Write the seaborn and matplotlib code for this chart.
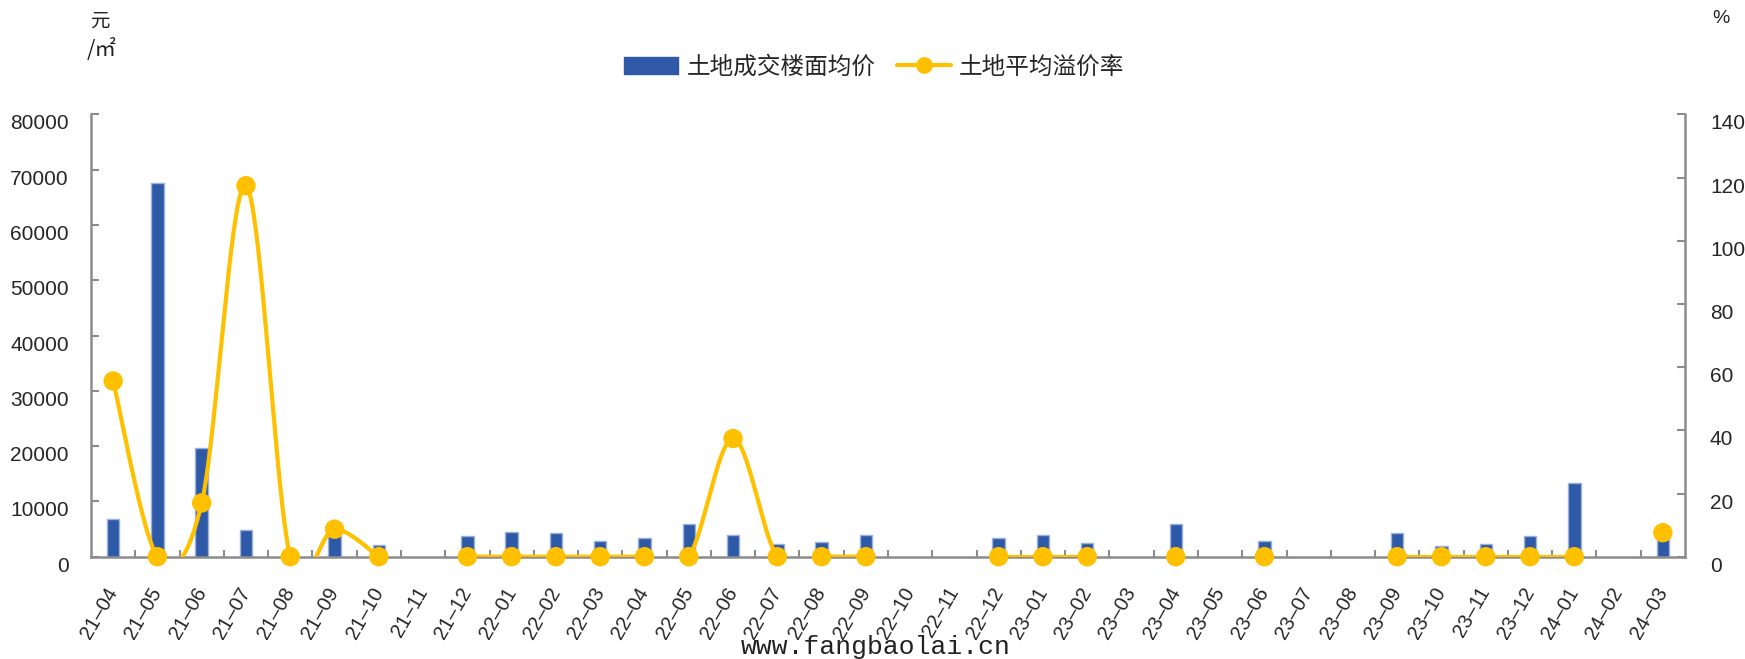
import numpy as np
import pandas as pd
import matplotlib
matplotlib.use("Agg")
import matplotlib.pyplot as plt
import matplotlib.patches as mpatches
import matplotlib.lines as mlines
from matplotlib.ticker import FixedLocator
import seaborn as sns

# ---------------- data ----------------
months = ["21–04", "21–05", "21–06", "21–07", "21–08", "21–09", "21–10", "21–11",
          "21–12", "22–01", "22–02", "22–03", "22–04", "22–05", "22–06", "22–07",
          "22–08", "22–09", "22–10", "22–11", "22–12", "23–01", "23–02", "23–03",
          "23–04", "23–05", "23–06", "23–07", "23–08", "23–09", "23–10", "23–11",
          "23–12", "24–01", "24–02", "24–03"]
nan = np.nan
floor_price = [6900, 67500, 19700, 4800, nan, 3800, 2100, nan,
               3800, 4400, 4300, 2800, 3400, 6000, 3900, 2300,
               2700, 3900, nan, nan, 3300, 3900, 2500, nan,
               5900, nan, 2800, nan, nan, 4300, 1900, 2300,
               3800, 13300, nan, 3200]
premium_rate = [55.6, 0, 17.0, 117.4, 0, 8.7, 0, nan,
                0, 0, 0, 0, 0, 0, 37.4, 0,
                0, 0, nan, nan, 0, 0, 0, nan,
                0, nan, 0, nan, nan, 0, 0, 0,
                0, 0, nan, 7.6]
left_ticks = [0, 10000, 20000, 30000, 40000, 50000, 60000, 70000, 80000]
right_ticks = [0, 20, 40, 60, 80, 100, 120, 140]
bar_label = "土地成交楼面均价"
line_label = "土地平均溢价率"

# ---------------- style ----------------
sns.set_style("white")
plt.rcParams["font.family"] = ["Liberation Sans", "Noto Sans CJK SC", "DejaVu Sans"]
plt.rcParams["axes.unicode_minus"] = False

BAR_C = "#2E59A6"
BAR_EDGE = "#9AB0DD"
LINE_C = "#FFC000"
AX_C = "#8C8C8C"

fig = plt.figure(figsize=(17.45, 6.59), dpi=100)
ax = fig.add_axes([91 / 1745, 1 - 556.7 / 659, (1685 - 91) / 1745, (556.7 - 114.3) / 659])

df = pd.DataFrame({"month": months, "price": floor_price})
sns.barplot(data=df, x="month", y="price", order=months, color=BAR_C,
            width=0.28, edgecolor=BAR_EDGE, linewidth=1.0, saturation=1,
            ax=ax, zorder=2)
ax.set_xlim(-0.5, len(months) - 0.5)
ax.set_ylim(0, 80000)
ax.set_yticks(left_ticks)
ax.set_yticklabels([str(v) for v in left_ticks])
ax.set_xlabel("")
ax.set_ylabel("")

for s in ["top", "right"]:
    ax.spines[s].set_visible(False)
for s in ["left", "bottom"]:
    ax.spines[s].set_color(AX_C)
    ax.spines[s].set_linewidth(1.8)

ax.tick_params(axis="y", direction="in", length=6, width=1.5, color=AX_C,
               labelsize=15, pad=16, left=True)
ax.tick_params(axis="x", which="major", length=0, labelsize=14.5, pad=23)
ax.xaxis.set_minor_locator(FixedLocator(np.arange(0.5, len(months) - 0.5, 1)))
ax.tick_params(axis="x", which="minor", direction="in", length=5, width=1.5,
               color=AX_C, bottom=True)
plt.setp(ax.get_xticklabels(), rotation=60, ha="right", va="center",
         rotation_mode="anchor")
for lbl in ax.get_yticklabels():
    lbl.set_verticalalignment("top")

# ---------------- line (secondary axis) ----------------
ax2 = ax.twinx()
ax2.set_ylim(0, 140)
ax2.set_yticks(right_ticks)
ax2.set_yticklabels([str(v) for v in right_ticks])
for s in ["top", "left", "bottom"]:
    ax2.spines[s].set_visible(False)
ax2.spines["right"].set_color(AX_C)
ax2.spines["right"].set_linewidth(1.8)
ax2.tick_params(axis="y", direction="in", length=6, width=1.5, color=AX_C,
                labelsize=15, pad=18, right=True)
for lbl in ax2.get_yticklabels():
    lbl.set_verticalalignment("top")
ax2.grid(False)
ax.grid(False)

xpos = np.arange(len(months), dtype=float)
rate = np.array(premium_rate, dtype=float)


def smooth_runs(x, y, n=40):
    """Excel-like smoothed line (Catmull-Rom Bezier) for each run of valid values."""
    valid = ~np.isnan(y)
    runs, cur = [], []
    for i in range(len(y)):
        if valid[i]:
            cur.append(i)
        else:
            if cur:
                runs.append(cur)
            cur = []
    if cur:
        runs.append(cur)
    out = []
    t = np.linspace(0, 1, n)[:, None]
    for r in runs:
        if len(r) < 2:
            continue
        P = np.column_stack([x[r], y[r]])
        seg = []
        for k in range(len(P) - 1):
            p0 = P[k - 1] if k > 0 else P[k]
            p1, p2 = P[k], P[k + 1]
            p3 = P[k + 2] if k + 2 < len(P) else P[k + 1]
            c1 = p1 + (p2 - p0) / 6.0
            c2 = p2 - (p3 - p1) / 6.0
            b = ((1 - t) ** 3) * p1 + 3 * ((1 - t) ** 2) * t * c1 + 3 * (1 - t) * t ** 2 * c2 + t ** 3 * p2
            seg.append(b if k == 0 else b[1:])
        out.append(np.vstack(seg))
    return out


for curve in smooth_runs(xpos, rate):
    ax2.plot(curve[:, 0], curve[:, 1], color=LINE_C, lw=3.0, solid_capstyle="round",
             zorder=3)
sns.scatterplot(x=xpos, y=rate, ax=ax2, color=LINE_C, s=195, edgecolor="none",
                zorder=4, clip_on=False, legend=False)

# ---------------- texts ----------------
fig.text(90 / 1745, 1 - 21 / 659, "元", fontsize=14, va="center", ha="left",
         family=["Noto Sans CJK SC"], color="#222222")
fig.text(87 / 1745, 1 - 49 / 659, "/㎡", fontsize=15.5, va="center", ha="left",
         family=["Noto Sans CJK SC", "DejaVu Sans"], color="#222222")
fig.text(1712 / 1745, 1 - 18.5 / 659, "%", fontsize=14, va="center", ha="left",
         color="#222222")

handles = [mpatches.Patch(color=BAR_C, label=bar_label),
           mlines.Line2D([], [], color=LINE_C, lw=3, marker="o", markersize=11,
                         label=line_label)]
fig.legend(handles=handles, loc="center", bbox_to_anchor=(0.501, 0.898), ncol=2,
           frameon=False, prop={"family": ["Noto Sans CJK SC"], "size": 17},
           handlelength=2.3, handletextpad=0.35, columnspacing=0.9)

fig.text(876 / 1745, 5 / 659, "www.fangbaolai.cn", fontsize=19, ha="center",
         va="baseline", family=["Liberation Mono"], color="#222222")

fig.savefig("out.png", dpi=100)
